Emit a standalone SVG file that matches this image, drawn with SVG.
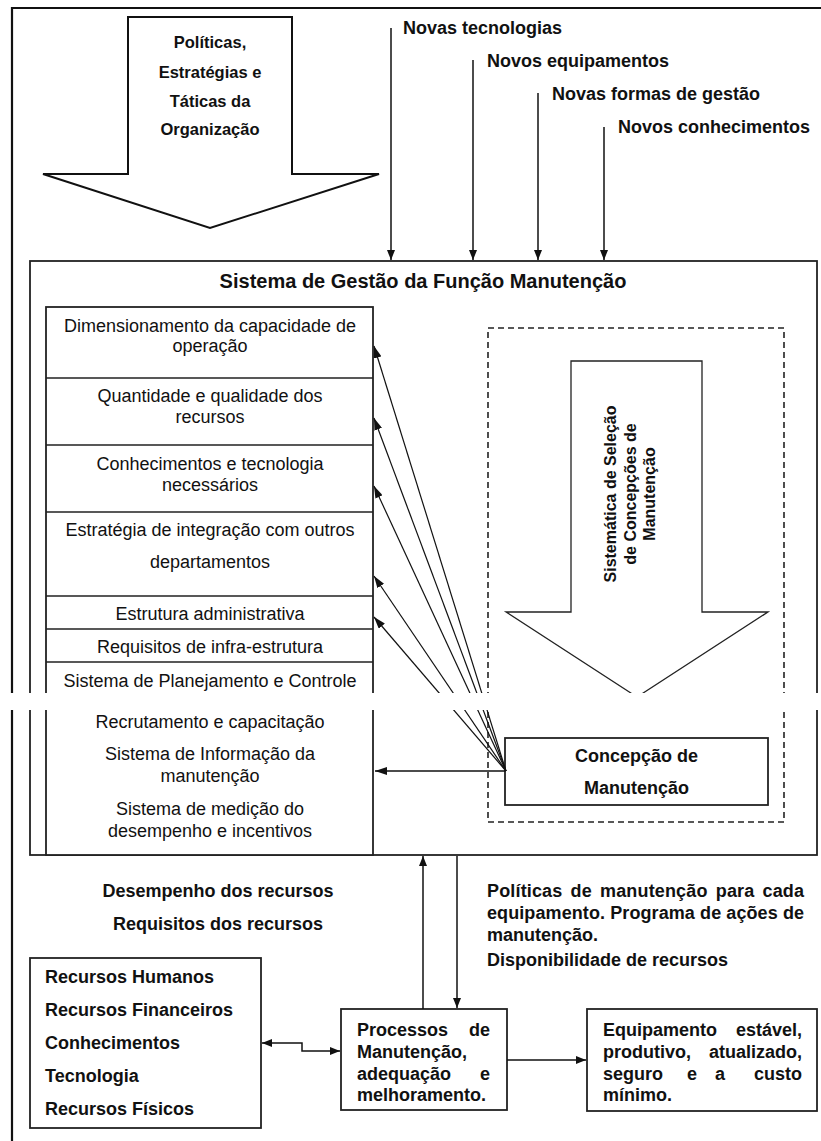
<svg xmlns="http://www.w3.org/2000/svg" width="821" height="1141" viewBox="0 0 821 1141">
<style>
.t{font-family:"Liberation Sans",Arial,sans-serif;font-size:18px;fill:#111}
.b{font-weight:bold}
.c{text-anchor:middle}
.e{text-anchor:end}
.box{fill:#fff;stroke:#222;stroke-width:1.8}
.thin{fill:none;stroke:#222;stroke-width:1.3}
.ln{fill:none;stroke:#111;stroke-width:1.5}
.fan{fill:none;stroke:#111;stroke-width:1.2}
</style>
<defs>
<marker id="ah" viewBox="0 0 10 8" refX="10" refY="4" markerWidth="10" markerHeight="8" markerUnits="userSpaceOnUse" orient="auto-start-reverse"><path d="M0,0 L10,4 L0,8 z" fill="#111"/></marker>
<marker id="ahs" viewBox="0 0 12 8" refX="12" refY="4" markerWidth="12" markerHeight="8" markerUnits="userSpaceOnUse" orient="auto"><path d="M0,0 L12,4 L0,8 z" fill="#111"/></marker>
</defs>
<rect width="821" height="1141" fill="#fff"/>
<path d="M12,1141 V8 H821" fill="none" stroke="#111" stroke-width="2.2"/>

<g id="policies">
<polygon points="128,17 292,17 292,174 379,174 210,228 43,174 128,174" fill="#fff" stroke="#111" stroke-width="2"/>
<text class="t b c" style="font-size:16.5px" x="210" y="48">Políticas,</text>
<text class="t b c" style="font-size:16.5px" x="210" y="78">Estratégias e</text>
<text class="t b c" style="font-size:16.5px" x="210" y="107">Táticas da</text>
<text class="t b c" style="font-size:16.5px" x="210" y="135">Organização</text>
</g>

<g id="inputs">
<text class="t b" x="403" y="34">Novas tecnologias</text>
<text class="t b" x="487" y="67">Novos equipamentos</text>
<text class="t b" x="552" y="100">Novas formas de gestão</text>
<text class="t b" x="618" y="133">Novos conhecimentos</text>
</g>

<g id="system">
<rect class="box" x="30" y="261" width="787" height="594"/>
<text class="t b c" style="font-size:20px" x="423" y="288">Sistema de Gestão da Função Manutenção</text>
</g>

<g id="components">
<rect class="box" x="46" y="307" width="327" height="548"/>
<path class="thin" d="M46,378 H373 M46,445 H373 M46,512 H373 M46,596 H373 M46,629 H373 M46,662 H373"/>
<text class="t c" x="210" y="332">Dimensionamento da capacidade de</text>
<text class="t c" x="210" y="352">operação</text>
<text class="t c" x="210" y="402">Quantidade e qualidade dos</text>
<text class="t c" x="210" y="423">recursos</text>
<text class="t c" x="210" y="470">Conhecimentos e tecnologia</text>
<text class="t c" x="210" y="491">necessários</text>
<text class="t c" x="210" y="536">Estratégia de integração com outros</text>
<text class="t c" x="210" y="568">departamentos</text>
<text class="t c" x="210" y="620">Estrutura administrativa</text>
<text class="t c" x="210" y="653">Requisitos de infra-estrutura</text>
<text class="t c" x="210" y="687">Sistema de Planejamento e Controle</text>
<text class="t c" x="210" y="728">Recrutamento e capacitação</text>
<text class="t c" x="210" y="760">Sistema de Informação da</text>
<text class="t c" x="210" y="782">manutenção</text>
<text class="t c" x="210" y="815">Sistema de medição do</text>
<text class="t c" x="210" y="837">desempenho e incentivos</text>
</g>

<g id="selection">
<rect x="488" y="328" width="296" height="494" fill="none" stroke="#222" stroke-width="1.6" stroke-dasharray="6 4"/>
<polygon points="571,361 702,361 702,612 768,612 637,697 506,612 571,612" fill="#fff" stroke="#222" stroke-width="1.3"/>
<text class="t b c" style="font-size:16px" transform="translate(616,494) rotate(-90)">Sistemática de Seleção</text>
<text class="t b c" style="font-size:16px" transform="translate(636,494) rotate(-90)">de Concepções de</text>
<text class="t b c" style="font-size:16px" transform="translate(655,494) rotate(-90)">Manutenção</text>
</g>

<g id="concepcao">
<rect class="box" x="505" y="738" width="263" height="67"/>
<text class="t b c" x="636.5" y="762">Concepção de</text>
<text class="t b c" x="636.5" y="794">Manutenção</text>
</g>

<g id="recursos">
<rect class="box" x="30" y="958" width="231" height="170"/>
<text class="t b" x="45" y="983">Recursos Humanos</text>
<text class="t b" x="45" y="1016">Recursos Financeiros</text>
<text class="t b" x="45" y="1049">Conhecimentos</text>
<text class="t b" x="45" y="1082">Tecnologia</text>
<text class="t b" x="45" y="1115">Recursos Físicos</text>
</g>

<g id="processos">
<rect class="box" x="341" y="1009" width="166" height="101"/>
<text class="t b" x="357" y="1036">Processos</text>
<text class="t b e" x="490" y="1036">de</text>
<text class="t b" x="357" y="1058">Manutenção,</text>
<text class="t b" x="357" y="1080">adequação</text>
<text class="t b e" x="490" y="1080">e</text>
<text class="t b" x="357" y="1101">melhoramento.</text>
</g>

<g id="equipamento">
<rect class="box" x="587" y="1009" width="230" height="102"/>
<text class="t b" x="603" y="1036">Equipamento</text>
<text class="t b e" x="802" y="1036">estável,</text>
<text class="t b" x="603" y="1058">produtivo,</text>
<text class="t b e" x="802" y="1058">atualizado,</text>
<text class="t b" x="603" y="1080">seguro</text>
<text class="t b" x="687" y="1080">e</text>
<text class="t b" x="715" y="1080">a</text>
<text class="t b e" x="802" y="1080">custo</text>
<text class="t b" x="603" y="1101">mínimo.</text>
</g>

<g id="labels">
<text class="t b c" x="218" y="897">Desempenho dos recursos</text>
<text class="t b c" x="218" y="930">Requisitos dos recursos</text>
<text class="t b" x="487" y="897" textLength="317" lengthAdjust="spacing" style="word-spacing:3px">Políticas de manutenção para cada</text>
<text class="t b" x="487" y="919" textLength="317" lengthAdjust="spacing">equipamento. Programa de ações de</text>
<text class="t b" x="487" y="941">manutenção.</text>
<text class="t b" x="487" y="966">Disponibilidade de recursos</text>
</g>

<g id="connectors">
<path class="ln" d="M391,28 V260" marker-end="url(#ah)"/>
<path class="ln" d="M473,60 V260" marker-end="url(#ah)"/>
<path class="ln" d="M538,93 V260" marker-end="url(#ah)"/>
<path class="ln" d="M604,127 V260" marker-end="url(#ah)"/>
<path class="fan" d="M506,771 L374,346" marker-end="url(#ahs)"/>
<path class="fan" d="M506,771 L374,418" marker-end="url(#ahs)"/>
<path class="fan" d="M506,771 L374,486" marker-end="url(#ahs)"/>
<path class="fan" d="M506,771 L374,576" marker-end="url(#ahs)"/>
<path class="fan" d="M506,771 L374,617" marker-end="url(#ahs)"/>
<path class="ln" d="M505,771 H375" marker-end="url(#ahs)"/>
<path class="ln" d="M423,1009 V856" marker-end="url(#ah)"/>
<path class="ln" d="M457,856 V1008" marker-end="url(#ah)"/>
<path class="ln" d="M262,1043 H302 V1051 H340" marker-start="url(#ah)" marker-end="url(#ah)"/>
<path class="ln" d="M507,1060 H586" marker-end="url(#ah)"/>
</g>

<rect x="0" y="693" width="821" height="17" fill="#fff"/>
</svg>
